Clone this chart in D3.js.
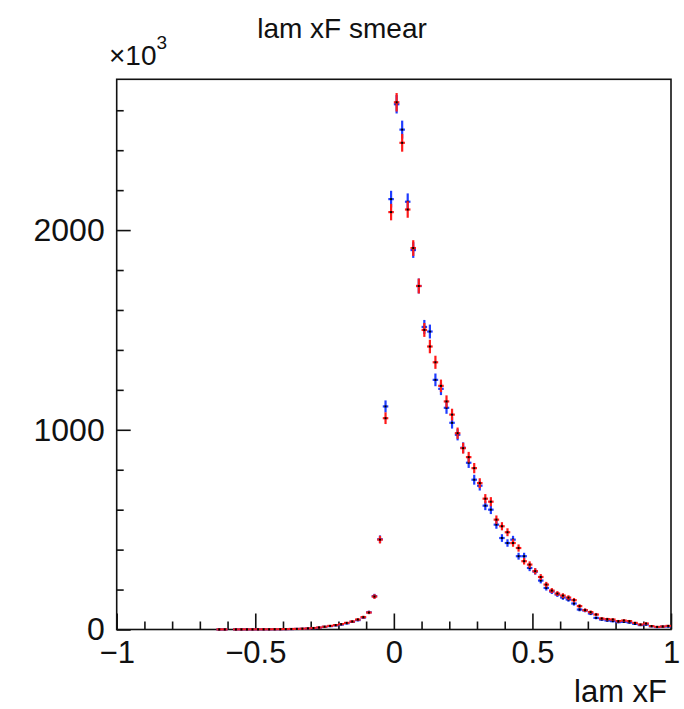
<!DOCTYPE html>
<html>
<head>
<meta charset="utf-8">
<script src="https://cdn.jsdelivr.net/npm/d3@7"></script>
<style>
  html, body { margin: 0; padding: 0; background: #fff; }
  svg { display: block; font-family: "Liberation Sans", Arial, Helvetica, sans-serif; }
</style>
</head>
<body>
<svg id="chart" width="684" height="709"></svg>
<script>
// Histogram binning: 100 bins of width 0.02 on [-1, 1]
const binLow = -1;
const binWidth = 0.02;

// Bin contents (in units of 10^3), one entry per bin from -1 to 1
const blueCounts = [
  0, 0, 0, 0, 0, 0, 0, 0, 0, 0,
  0, 0, 0, 0, 0, 0, 0, 0, 0.3, 0.3,
  0, 0.4, 0.5, 0.6, 0.7, 0.8, 0.9, 1.0, 1.2, 1.5,
  1.8, 2.2, 2.8, 3.5, 5, 7, 9, 13, 17, 21,
  25, 31, 38, 47, 60, 86, 167, 452, 1117, 2155,
  2630, 2503, 2142, 1900, 1720, 1515, 1492, 1250, 1205, 1110,
  1035, 975, 910, 835, 750, 720, 620, 600, 525, 458,
  433, 450, 367, 367, 308, 290, 245, 208, 190, 175,
  160, 150, 130, 100, 95, 80, 58, 50, 45, 42,
  37, 38, 35, 28, 22, 25, 16, 12, 14, 15
];
const redCounts = [
  0, 0, 0, 0, 0, 0, 0, 0, 0, 0,
  0, 0, 0, 0, 0, 0, 0, 0, 0.5, 0.5,
  0, 0.5, 0.6, 0.7, 0.8, 0.9, 1.0, 1.1, 1.3, 1.6,
  2.0, 2.5, 3.0, 4, 5.5, 7.5, 10, 14, 18, 22,
  27, 33, 40, 50, 62, 85, 165, 450, 1058, 2090,
  2640, 2437, 2103, 1910, 1720, 1500, 1417, 1338, 1220, 1142,
  1076, 983, 908, 863, 808, 733, 655, 640, 550, 517,
  487, 433, 408, 342, 325, 292, 263, 225, 195, 180,
  170, 160, 147, 117, 97, 87, 75, 55, 52, 50,
  42, 45, 42, 33, 25, 30, 17, 13, 15, 18
];

// Axis ticks
const xMajorTicks = [-1, -0.5, 0, 0.5, 1];
const xMinorTicks = [-0.9, -0.8, -0.7, -0.6, -0.4, -0.3, -0.2, -0.1, 0.1, 0.2, 0.3, 0.4, 0.6, 0.7, 0.8, 0.9];
const yMajorTicks = [0, 1000, 2000];
const yMinorTicks = [200, 400, 600, 800, 1200, 1400, 1600, 1800, 2200, 2400, 2600];
const xTickLabels = ["\u22121", "\u22120.5", "0", "0.5", "1"];

const titleText = "lam xF smear";
const xAxisTitle = "lam xF";

const svg = d3.select("#chart");
const frame = { left: 116.7, right: 671, top: 79.3, bottom: 629.5 };

const x = d3.scaleLinear().domain([-1, 1]).range([frame.left, frame.right]);
const y = d3.scaleLinear().domain([0, 2755]).range([frame.bottom, frame.top]);

const ink = "#111";

// Frame
svg.append("rect")
  .attr("x", frame.left).attr("y", frame.top)
  .attr("width", frame.right - frame.left).attr("height", frame.bottom - frame.top)
  .attr("fill", "none").attr("stroke", ink).attr("stroke-width", 1.6);

// X axis: major ticks with labels, minor ticks inward
const xMajor = svg.append("g").attr("transform", `translate(0,${frame.bottom})`)
  .call(d3.axisBottom(x).tickValues(xMajorTicks).tickSize(-16).tickPadding(11)
    .tickFormat((d, i) => xTickLabels[i]));
const xMinor = svg.append("g").attr("transform", `translate(0,${frame.bottom})`)
  .call(d3.axisBottom(x).tickValues(xMinorTicks).tickSize(-8).tickFormat(""));

// Y axis
const yMajor = svg.append("g").attr("transform", `translate(${frame.left},0)`)
  .call(d3.axisLeft(y).tickValues(yMajorTicks).tickSize(-14).tickPadding(12).tickFormat(d3.format("d")));
const yMinor = svg.append("g").attr("transform", `translate(${frame.left},0)`)
  .call(d3.axisLeft(y).tickValues(yMinorTicks).tickSize(-7).tickFormat(""));

[xMajor, xMinor, yMajor, yMinor].forEach(g => {
  g.select(".domain").remove();
  g.selectAll(".tick line").attr("stroke", ink).attr("stroke-width", 1.6);
  g.selectAll(".tick text").attr("fill", ink).attr("font-size", 31)
    .attr("font-family", "'Liberation Sans', Arial, sans-serif");
});
yMajor.selectAll(".tick text").attr("font-size", 32);

// Histogram points with error crosses
function drawSeries(counts, color) {
  const bins = counts.map((v, i) => ({
    lo: binLow + i * binWidth,
    hi: binLow + (i + 1) * binWidth,
    c: binLow + (i + 0.5) * binWidth,
    v: v,
    e: Math.sqrt(v) * 0.9
  })).filter(d => d.v > 0);
  const g = svg.append("g");
  const pts = g.selectAll("g.pt").data(bins).join("g").attr("class", "pt");
  pts.append("line")
    .attr("x1", d => x(d.lo)).attr("x2", d => x(d.hi))
    .attr("y1", d => y(d.v)).attr("y2", d => y(d.v))
    .attr("stroke", color).attr("stroke-width", 2.2);
  pts.append("line")
    .attr("x1", d => x(d.c)).attr("x2", d => x(d.c))
    .attr("y1", d => y(d.v - d.e)).attr("y2", d => y(d.v + d.e))
    .attr("stroke", color).attr("stroke-width", 2.2);
  pts.append("rect")
    .attr("x", d => x(d.c) - 1).attr("y", d => y(d.v) - 1)
    .attr("width", 2).attr("height", 2)
    .attr("fill", "#000");
}
drawSeries(blueCounts, "#1f3cff");
drawSeries(redCounts, "#ff1a1a");

// Title
svg.append("text").attr("x", 342).attr("y", 38)
  .attr("text-anchor", "middle").attr("font-size", 28).attr("fill", ink)
  .text(titleText);

// Axis title
svg.append("text").attr("x", 667).attr("y", 702)
  .attr("text-anchor", "end").attr("font-size", 31).attr("fill", ink)
  .text(xAxisTitle);

// Exponent factor for the y axis
const expo = svg.append("text").attr("x", 109).attr("y", 65)
  .attr("font-size", 28).attr("fill", ink);
expo.append("tspan").text("\u00d710");
expo.append("tspan").attr("dy", -16).attr("font-size", 19).text("3");
</script>
</body>
</html>
